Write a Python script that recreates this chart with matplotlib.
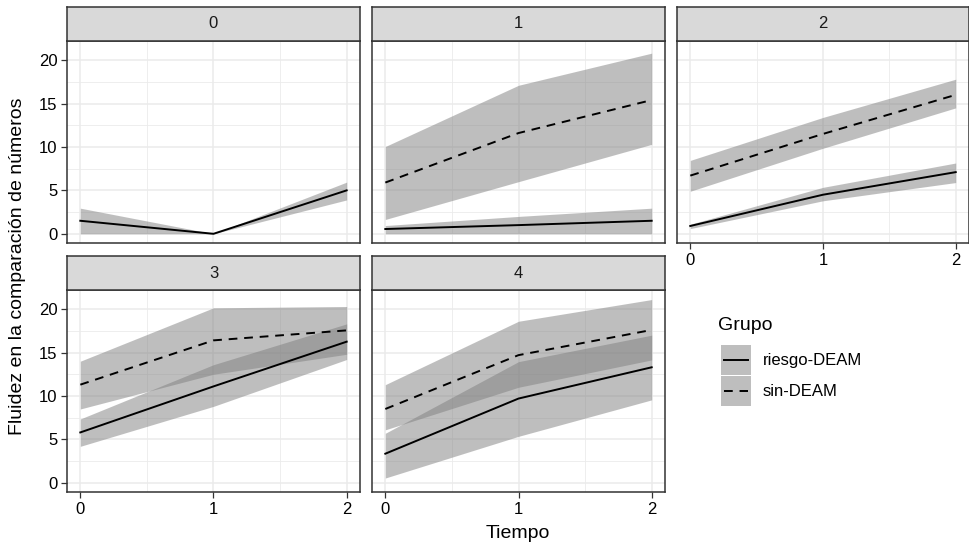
import matplotlib.pyplot as plt
from matplotlib.patches import Rectangle

# datos
tiempo = [0, 1, 2]
paneles = ['0', '1', '2', '3', '4']

riesgo_media = [[1.5, 0.0, 5.0], [0.55, 1.0, 1.5], [0.9, 4.5, 7.1],
                [5.8, 11.1, 16.25], [3.35, 9.7, 13.3]]
riesgo_inf = [[0.0, 0.0, 3.9], [0.0, 0.0, 0.0], [0.6, 3.8, 5.9],
              [4.2, 8.8, 14.2], [0.55, 5.35, 9.55]]
riesgo_sup = [[2.95, 0.0, 5.95], [0.95, 2.0, 2.95], [1.1, 5.35, 8.15],
              [7.35, 13.6, 18.3], [5.7, 13.95, 17.0]]

sin_media = [None, [5.9, 11.6, 15.4], [6.7, 11.5, 16.0],
             [11.3, 16.4, 17.55], [8.5, 14.7, 17.6]]
sin_inf = [None, [1.65, 6.0, 10.3], [4.9, 9.85, 14.5],
           [8.5, 12.5, 14.8], [6.1, 11.0, 14.15]]
sin_sup = [None, [10.05, 17.1, 20.8], [8.45, 13.4, 17.8],
           [14.0, 20.15, 20.3], [11.3, 18.6, 21.1]]

grupos = ['riesgo-DEAM', 'sin-DEAM']

W, H = 970, 549
fig = plt.figure(figsize=(W / 100, H / 100), dpi=100)
plt.rcParams['font.family'] = ['Liberation Sans', 'DejaVu Sans']


def rect(x0, y0, x1, y1):
    return [x0 / W, 1 - y1 / H, (x1 - x0) / W, (y1 - y0) / H]


cols = [(67, 360), (372, 665), (677, 969)]
filas = [(41, 243), (290, 492)]
tiras = [(7, 41), (256, 290)]
relleno = '#7f7f7f'
borde = '#333333'
guiones = (4.5, 3.5)

for i, nombre in enumerate(paneles):
    f, c = divmod(i, 3)
    x0, x1 = cols[c]
    y0, y1 = filas[f]
    ax = fig.add_axes(rect(x0, y0, x1, y1))
    ax.fill_between(tiempo, riesgo_inf[i], riesgo_sup[i], color=relleno, alpha=0.5, lw=0)
    ax.plot(tiempo, riesgo_media[i], color='black', lw=1.4)
    if sin_media[i] is not None:
        ax.fill_between(tiempo, sin_inf[i], sin_sup[i], color=relleno, alpha=0.5, lw=0)
        ax.plot(tiempo, sin_media[i], color='black', lw=1.4, dashes=guiones)
    ax.set_xlim(-0.1, 2.1)
    ax.set_ylim(-1.06, 22.2)
    ax.set_xticks([0, 1, 2])
    ax.set_xticks([0.5, 1.5], minor=True)
    ax.set_yticks([0, 5, 10, 15, 20])
    ax.set_yticks([2.5, 7.5, 12.5, 17.5], minor=True)
    ax.grid(which='major', color='#ebebeb', lw=1.1)
    ax.grid(which='minor', color='#ebebeb', lw=0.6)
    ax.set_axisbelow(True)
    for s in ax.spines.values():
        s.set_color(borde)
        s.set_linewidth(1.1)
    ax.tick_params(which='minor', length=0)
    ax.tick_params(which='major', length=4, width=0.9, color=borde,
                   labelsize=12, labelcolor='black', pad=3)
    if c != 0:
        ax.tick_params(axis='y', left=False, labelleft=False)
    if f == 0 and c != 2:
        ax.tick_params(axis='x', bottom=False, labelbottom=False)
    # tira del panel
    sy0, sy1 = tiras[f]
    st = fig.add_axes(rect(x0, sy0, x1, sy1))
    st.set_xticks([])
    st.set_yticks([])
    st.set_facecolor('#d9d9d9')
    for s in st.spines.values():
        s.set_color(borde)
        s.set_linewidth(1.1)
    st.text(0.5, 0.5, nombre, ha='center', va='center', fontsize=12,
            color='#1a1a1a', transform=st.transAxes)

fig.text(18 / W, 1 - 266 / H, 'Fluidez en la comparación de números',
         rotation=90, ha='center', va='center', fontsize=14)
fig.text(518 / W, 1 - 534 / H, 'Tiempo', ha='center', va='center', fontsize=14)

# leyenda
fig.text(718 / W, 1 - 326 / H, 'Grupo', ha='left', va='center', fontsize=14)
estilos = ['-', (0, guiones)]
for k, g in enumerate(grupos):
    ky0 = 345 + k * 31
    lax = fig.add_axes(rect(721, ky0, 751, ky0 + 30))
    lax.set_xlim(0, 1)
    lax.set_ylim(0, 1)
    lax.axis('off')
    lax.add_patch(Rectangle((0, 0), 1, 1, color=relleno, alpha=0.5, lw=0))
    lax.plot([0.1, 0.9], [0.5, 0.5], color='black', lw=1.4, linestyle=estilos[k])
    fig.text(763 / W, 1 - (ky0 + 15) / H, g, ha='left', va='center', fontsize=12)

fig.savefig('out.png', dpi=100)
